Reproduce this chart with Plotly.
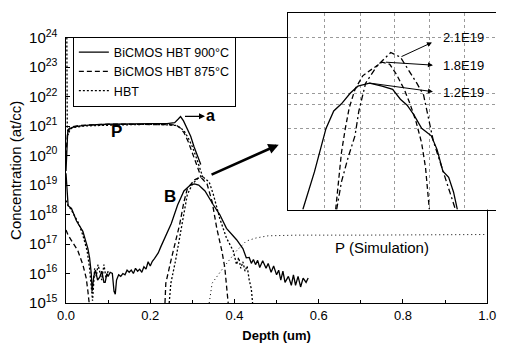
import plotly.graph_objects as go

# ---------------- data ----------------
# Phosphorus profiles (main plot), depth in um, concentration in at/cc
p900_depth = [0.0, 0.002, 0.004, 0.008, 0.015, 0.03, 0.06, 0.1, 0.15, 0.2, 0.24, 0.258, 0.266, 0.272, 0.279, 0.287, 0.296, 0.304, 0.312, 0.32]
p900_conc = [3e19, 2e20, 6e20, 8e20, 9e20, 1.0e21, 1.1e21, 1.15e21, 1.2e21, 1.2e21, 1.2e21, 1.3e21, 1.7e21, 2.1e21, 1.5e21, 8e20, 4.5e20, 2e20, 1e20, 5e19]

p875_depth = [0.0, 0.002, 0.004, 0.008, 0.015, 0.03, 0.06, 0.1, 0.15, 0.2, 0.24, 0.26, 0.27, 0.28, 0.29, 0.3, 0.31, 0.32]
p875_conc = [1e20, 4e20, 7e20, 8.5e20, 9.5e20, 1.05e21, 1.1e21, 1.15e21, 1.15e21, 1.15e21, 1.15e21, 1.1e21, 9e20, 6e20, 3e20, 1.3e20, 5e19, 2e19]

phbt_depth = [0.002, 0.003, 0.005, 0.01, 0.02, 0.04, 0.08, 0.12, 0.16, 0.2, 0.24, 0.26, 0.27, 0.28, 0.29, 0.3, 0.31, 0.32, 0.327]
phbt_conc = [1e24, 1e21, 5e20, 8e20, 9e20, 1.0e21, 1.05e21, 1.1e21, 1.15e21, 1.15e21, 1.1e21, 1.05e21, 9e20, 7e20, 4e20, 2e20, 8e19, 3e19, 1.5e19]

# Boron profiles (main plot)
b900_depth = [0.0, 0.002, 0.005, 0.013, 0.025, 0.04, 0.052, 0.056, 0.06, 0.062, 0.066, 0.07, 0.075, 0.08, 0.085, 0.09, 0.093,
              0.097, 0.1, 0.105, 0.11, 0.114, 0.117, 0.12, 0.125, 0.13, 0.135, 0.14, 0.145, 0.15, 0.155, 0.16, 0.165, 0.17,
              0.175, 0.18, 0.185, 0.19, 0.195, 0.2, 0.205, 0.21, 0.215, 0.219, 0.225, 0.235, 0.25, 0.265, 0.28, 0.295, 0.305,
              0.315, 0.33, 0.35, 0.365, 0.381, 0.395, 0.405, 0.42, 0.428, 0.435, 0.44, 0.445, 0.45, 0.455, 0.46, 0.467, 0.475,
              0.48, 0.487, 0.493, 0.5, 0.505, 0.51, 0.515, 0.52, 0.528, 0.535, 0.54, 0.545, 0.551, 0.557, 0.563, 0.57, 0.575]
b900_conc = [2.5e19, 6e18, 2e18, 1.6e18, 6e17, 2.7e17, 7e16, 3.4e16, 1e16, 2.5e15, 8e15, 1.3e16, 6e15, 7.5e15, 1.2e16, 5e15, 5e15,
             1e16, 8e15, 1.1e16, 1e16, 2.5e15, 2e15, 6e15, 9e15, 8e15, 1e16, 9e15, 1.3e16, 1.1e16, 1.3e16, 1e16, 1.5e16, 1.2e16,
             1.4e16, 1.1e16, 1.7e16, 1.4e16, 2.5e16, 1.8e16, 2.6e16, 3.2e16, 4e16, 5e16, 8e16, 1.6e17, 5e17, 2.1e18, 6.3e18, 1e19, 1.1e19,
             1e19, 6.3e18, 2.1e18, 1e18, 3.4e17, 2e17, 1.4e17, 7e16, 3.4e16, 3.5e16, 2.2e16, 3e16, 2e16, 2.8e16, 1.6e16, 2.7e16, 1.5e16,
             2.2e16, 1.1e16, 1.8e16, 9e15, 1.3e16, 6e15, 1.2e16, 5e15, 8e15, 4e15, 9e15, 4e15, 8e15, 3.5e15, 7e15, 5e15, 7e15]

b875_left_depth = [0.0, 0.005, 0.013, 0.028, 0.04, 0.048, 0.052, 0.055]
b875_left_conc = [3e17, 2e17, 1.3e17, 6e16, 2e16, 7e15, 2.5e15, 1e15]
b875_right_depth = [0.235, 0.237, 0.249, 0.26, 0.27, 0.28, 0.288, 0.305, 0.32, 0.335, 0.347, 0.358, 0.37, 0.377, 0.381, 0.385]
b875_right_conc = [1e15, 4.7e15, 2.7e16, 1.26e17, 4.7e17, 2.7e18, 7.4e18, 1.5e19, 1.86e19, 1.07e19, 2.7e18, 3.4e17, 5.9e16, 1.6e16, 4.7e15, 1e15]

bhbt_left_depth = [0.0, 0.005, 0.012, 0.02, 0.03, 0.04, 0.05, 0.056, 0.06, 0.063, 0.068, 0.072, 0.076, 0.08, 0.085, 0.09, 0.095, 0.1]
bhbt_left_conc = [3e18, 2e18, 1.5e18, 9e17, 5e17, 2e17, 6e16, 1.5e16, 4e15, 1.2e15, 1.5e16, 8e15, 2e16, 1.2e16, 6e15, 2e16, 7e15, 1.2e16]
bhbt_right_depth = [0.245, 0.249, 0.26, 0.27, 0.277, 0.288, 0.3, 0.313, 0.323, 0.34, 0.35, 0.365, 0.381, 0.397, 0.405, 0.41,
                    0.415, 0.42, 0.425, 0.43, 0.435, 0.44, 0.443]
bhbt_right_conc = [1e15, 4.7e15, 2.7e16, 1.6e17, 7.4e17, 4.7e18, 1.07e19, 1.7e19, 2e19, 1.26e19, 4.7e18, 7.4e17, 1.6e17, 5.9e16,
                   2e16, 3.5e16, 1.5e16, 2.5e16, 1.2e16, 1.8e16, 6e15, 3e15, 1e15]

psim_depth = [0.34, 0.347, 0.374, 0.405, 0.428, 0.451, 0.48, 0.55, 0.7, 0.85, 1.0]
psim_conc = [1e15, 4.7e15, 1.6e16, 5.9e16, 1.26e17, 1.6e17, 1.9e17, 2e17, 2e17, 2e17, 2.1e17]

# Inset (zoom of the boron peak)
in900_depth = [0.235, 0.247, 0.259, 0.267, 0.275, 0.284, 0.292, 0.304, 0.317, 0.328, 0.336, 0.343, 0.350, 0.358, 0.368, 0.374,
               0.380, 0.386, 0.391, 0.395]
in900_conc = [1.74e18, 3.16e18, 6.3e18, 8.3e18, 9.3e18, 1.1e19, 1.23e19, 1.29e19, 1.23e19, 1.17e19, 1.0e19, 9.1e18, 7.8e18,
              6.3e18, 5.6e18, 4.5e18, 3.2e18, 2.9e18, 2.3e18, 1.74e18]
in875_depth = [0.269, 0.272, 0.275, 0.279, 0.283, 0.289, 0.297, 0.307, 0.317, 0.325, 0.332, 0.340, 0.346, 0.352, 0.358, 0.362, 0.366]
in875_conc = [1.74e18, 2.9e18, 4.3e18, 6.3e18, 8.7e18, 1.17e19, 1.45e19, 1.62e19, 1.8e19, 1.74e19, 1.48e19, 1.17e19, 9.3e18,
              7.1e18, 5.0e18, 3.4e18, 1.74e18]
inhbt_depth = [0.270, 0.275, 0.282, 0.289, 0.293, 0.300, 0.312, 0.326, 0.336, 0.344, 0.353, 0.360, 0.365, 0.370, 0.376, 0.383,
               0.390, 0.393]
inhbt_conc = [1.74e18, 2.7e18, 4.0e18, 5.6e18, 8.3e18, 1.29e19, 1.7e19, 2.1e19, 1.95e19, 1.62e19, 1.29e19, 1.07e19, 7.6e18,
              5.2e18, 3.9e18, 2.8e18, 2.0e18, 1.74e18]

legend_names = ["BiCMOS HBT 900°C", "BiCMOS HBT 875°C", "HBT"]
peak_labels = ["2.1E19", "1.8E19", "1.2E19"]
x_ticks = [0.0, 0.2, 0.4, 0.6, 0.8, 1.0]


def join(*segs):
    xs, ys = [], []
    for i, (sx, sy) in enumerate(segs):
        if i:
            xs.append(None)
            ys.append(None)
        xs += list(sx)
        ys += list(sy)
    return xs, ys


FONT = "Liberation Sans, Arial, sans-serif"
fig = go.Figure()

styles = [dict(color="black", width=1.3, dash="solid"),
          dict(color="black", width=1.3, dash="5px,3px"),
          dict(color="black", width=1.3, dash="2px,2px")]

x900, y900 = join((p900_depth, p900_conc), (b900_depth, b900_conc))
x875, y875 = join((p875_depth, p875_conc), (b875_left_depth, b875_left_conc), (b875_right_depth, b875_right_conc))
xh, yh = join((phbt_depth, phbt_conc), (bhbt_left_depth, bhbt_left_conc), (bhbt_right_depth, bhbt_right_conc))

for name, (xx, yy), st in zip(legend_names, [(x900, y900), (x875, y875), (xh, yh)], styles):
    fig.add_trace(go.Scatter(x=xx, y=yy, mode="lines", name=name, line=st, connectgaps=False,
                             xaxis="x", yaxis="y"))

fig.add_trace(go.Scatter(x=psim_depth, y=psim_conc, mode="lines", showlegend=False,
                         line=dict(color="black", width=1, dash="1px,3px"), xaxis="x", yaxis="y"))

# inset traces
for (xx, yy), st in zip([(in900_depth, in900_conc), (in875_depth, in875_conc), (inhbt_depth, inhbt_conc)], styles):
    s = dict(st)
    if s["dash"] == "2px,2px":
        s["dash"] = "6px,3px,2px,3px"
    fig.add_trace(go.Scatter(x=xx, y=yy, mode="lines", showlegend=False, line=s, xaxis="x2", yaxis="y2"))

W, H = 507, 347
ML, MR, MT, MB = 66, 2, 8, 44
pw, ph = W - ML - MR, H - MT - MB

fig.update_layout(
    width=W, height=H,
    margin=dict(l=ML, r=MR, t=MT, b=MB),
    paper_bgcolor="white", plot_bgcolor="white",
    font=dict(family=FONT, size=12, color="black"),
    showlegend=True,
    legend=dict(x=(73 - ML) / pw, y=(H - MB - 32) / ph, xanchor="left", yanchor="top",
                bgcolor="white", bordercolor="black", borderwidth=1,
                font=dict(family=FONT, size=12.5, color="black"),
                tracegroupgap=0, itemwidth=30),
    xaxis=dict(domain=[0, 430 / pw], range=[0, 1.0], tickvals=x_ticks, tickformat=".1f",
               showline=True, linecolor="black", linewidth=1.3, mirror=True,
               ticks="inside", ticklen=4, tickcolor="black", showgrid=False, zeroline=False,
               minor=dict(dtick=0.1, ticks="inside", ticklen=3, tickcolor="black"),
               tickfont=dict(size=13),
               title=dict(text="<b>Depth (um)</b>", font=dict(size=13), standoff=9)),
    yaxis=dict(domain=[0, 270 / ph], type="log", range=[15, 24], dtick=1, exponentformat="power",
               showline=True, linecolor="black", linewidth=1.3, mirror=True,
               ticks="inside", ticklen=4, tickcolor="black", showgrid=False, zeroline=False,
               tickfont=dict(size=12), ticklabelstandoff=5,
               title=dict(text="Concentration (at/cc)", font=dict(size=15), standoff=3)),
    xaxis2=dict(domain=[(293 - ML) / pw, 1.0], anchor="y2", range=[0.22, 0.435],
                tickvals=[0.2572, 0.2944, 0.3295, 0.3657, 0.4019], showticklabels=False, ticks="",
                showgrid=True, gridcolor="#9a9a9a", griddash="dot", gridwidth=1, zeroline=False,
                showline=True, linecolor="black", linewidth=1.2, mirror=True),
    yaxis2=dict(domain=[(H - MB - 208) / ph, 1.0], anchor="x2", type="log", range=[18.24, 19.594],
                tickvals=[10 ** v for v in [19.425, 19.039, 18.964, 18.802, 18.619]],
                showticklabels=False, ticks="", showgrid=True, gridcolor="#9a9a9a", griddash="dot", gridwidth=1,
                zeroline=False, showline=True, linecolor="black", linewidth=1.2, mirror=False),
)

ann = []
ann.append(dict(x=0.12, y=20.8, xref="x", yref="y", text="<b>P</b>", showarrow=False, font=dict(size=17)))
ann.append(dict(x=0.246, y=18.6, xref="x", yref="y", text="<b>B</b>", showarrow=False, font=dict(size=17)))
ann.append(dict(x=0.344, y=21.37, xref="x", yref="y", text="<b>a</b>", showarrow=False, font=dict(size=16)))
ann.append(dict(x=0.330, y=21.33, ax=0.279, ay=21.33, xref="x", yref="y", axref="x", ayref="y", text="",
                showarrow=True, arrowhead=2, arrowsize=1, arrowwidth=1.2, arrowcolor="black"))
ann.append(dict(x=0.505, y=20.37, ax=0.342, ay=19.33, xref="x", yref="y", axref="x", ayref="y", text="",
                showarrow=True, arrowhead=2, arrowsize=0.8, arrowwidth=2.6, arrowcolor="black"))
ann.append(dict(x=0.75, y=16.87, xref="x", yref="y", text="P (Simulation)", showarrow=False, font=dict(size=15)))

# inset labels and arrows
label_pos = [19.425, 19.235, 19.046]
arrow_tail = [(0.3356, 19.289), (0.3195, 19.256), (0.3024, 19.113)]
arrow_head = [(0.3687, 19.391), (0.3697, 19.235), (0.3697, 19.052)]
for lab, ly, (tx, ty), (hx, hy) in zip(peak_labels, label_pos, arrow_tail, arrow_head):
    ann.append(dict(x=0.3778, y=ly, xref="x2", yref="y2", text=lab, showarrow=False, xanchor="left",
                    font=dict(size=13)))
    ann.append(dict(x=hx, y=hy, ax=tx, ay=ty, xref="x2", yref="y2", axref="x2", ayref="y2", text="",
                    showarrow=True, arrowhead=2, arrowsize=1, arrowwidth=1, arrowcolor="black"))
fig.update_layout(annotations=ann)

fig.write_html("out.html")
